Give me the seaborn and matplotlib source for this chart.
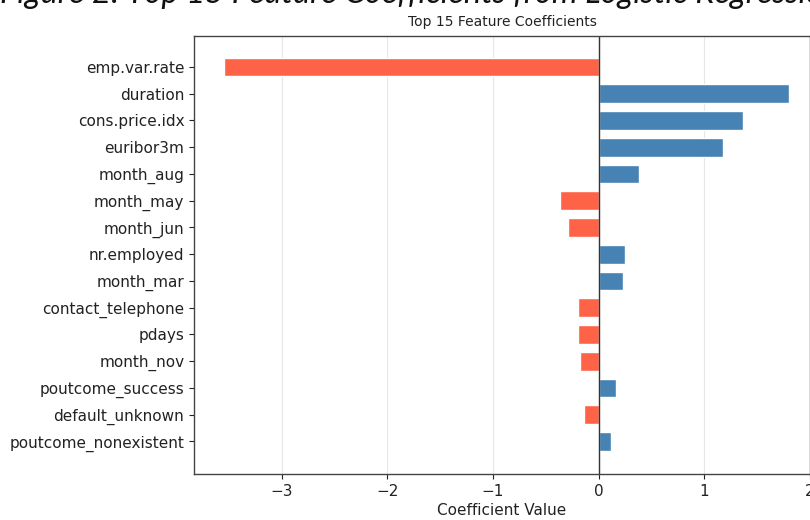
import matplotlib
matplotlib.use("Agg")
import matplotlib.pyplot as plt
import seaborn as sns
import pandas as pd

# Top 15 logistic-regression coefficients, ordered by absolute size
features = [
    "emp.var.rate", "duration", "cons.price.idx", "euribor3m", "month_aug",
    "month_may", "month_jun", "nr.employed", "month_mar", "contact_telephone",
    "pdays", "month_nov", "poutcome_success", "default_unknown",
    "poutcome_nonexistent",
]
coefficients = [
    -3.55, 1.80, 1.37, 1.18, 0.38,
    -0.37, -0.29, 0.25, 0.23, -0.20,
    -0.20, -0.18, 0.16, -0.14,
    0.12,
]

df = pd.DataFrame({"feature": features, "coef": coefficients})
df["sign"] = ["positive" if c > 0 else "negative" for c in df["coef"]]

sns.set_style("white")
plt.rcParams["font.family"] = ["DejaVu Sans"]

fig = plt.figure(figsize=(8.1, 5.2), dpi=100)
ax = fig.add_axes([194 / 810, 1 - 474 / 520, (810 - 194) / 810, (474 - 36) / 520])

sns.barplot(
    data=df, y="feature", x="coef", hue="sign",
    palette={"positive": "steelblue", "negative": "tomato"},
    order=features, dodge=False, width=0.7, legend=False, ax=ax,
    saturation=1,
)

ax.axvline(0, color="#333333", linewidth=1)
ax.set_xlim(-3.83, 2.0)
ax.set_ylim(len(features) - 1 + 1.22, -1.16)
ax.xaxis.grid(True, color="#e6e6e6", linewidth=0.8)
ax.set_axisbelow(True)
for s in ax.spines.values():
    s.set_color("#444444")
    s.set_linewidth(1.0)
ax.tick_params(axis="both", labelsize=11, length=3.5, width=0.8, colors="#222222", left=True, bottom=True)
ax.set_ylabel("")
ax.set_xlabel("Coefficient Value", fontsize=11, color="#222222", labelpad=3)
ax.set_title("Top 15 Feature Coefficients", fontsize=10, color="#222222", pad=7)

# Document caption sitting above the chart (only its lower part falls inside)
fig.text(
    0.0, 1 - 3 / 520,
    "Figure 2: Top 15 Feature Coefficients from Logistic Regression",
    fontsize=23.5, style="italic",
    family=["Lato", "DejaVu Sans"],
    va="baseline", ha="left", color="#111111",
)

fig.savefig("out.png", dpi=100)
